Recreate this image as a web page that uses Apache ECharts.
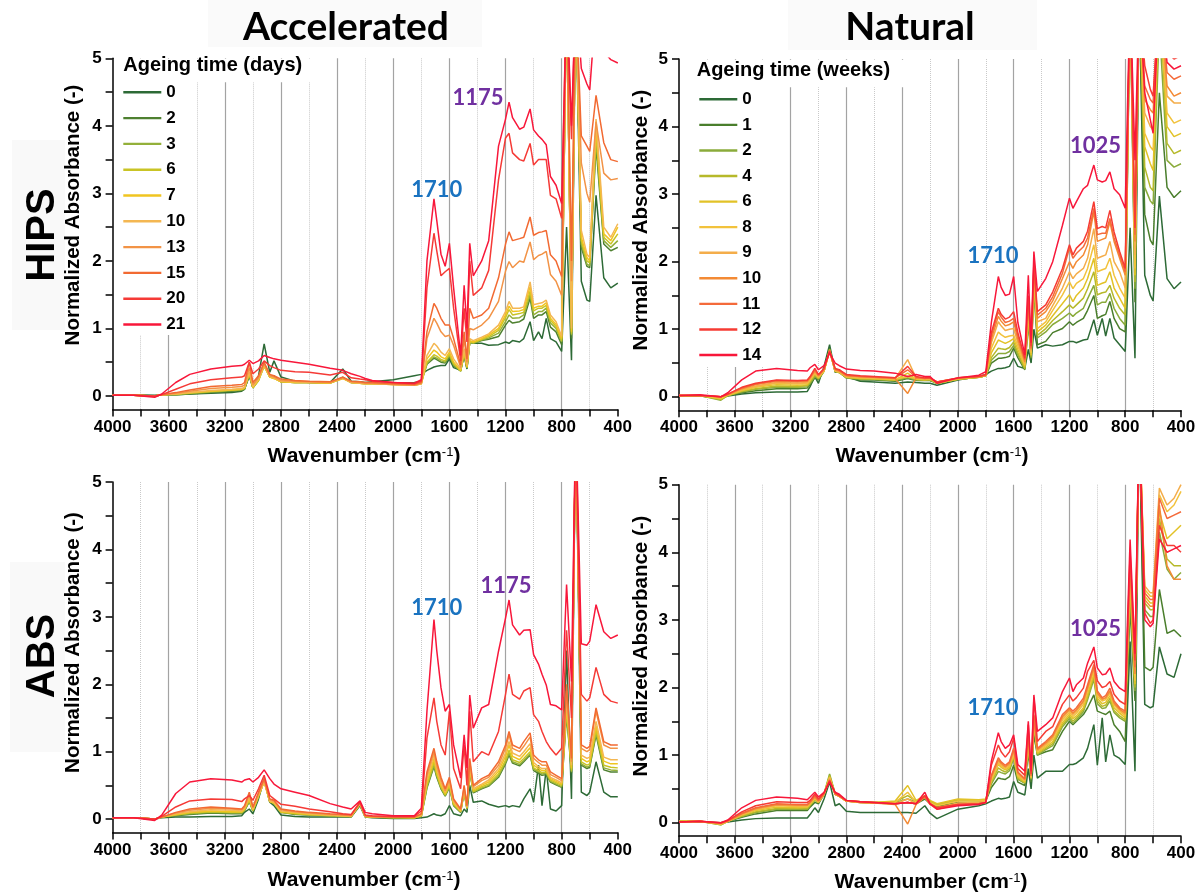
<!DOCTYPE html>
<html>
<head>
<meta charset="utf-8">
<script src="https://cdn.jsdelivr.net/npm/echarts@6/dist/echarts.min.js"></script>
<style>
  html, body { margin: 0; padding: 0; background: #ffffff; }
  #chart { width: 1201px; height: 895px; }
</style>
</head>
<body>
<div id="chart"></div>
<script>
// Wavenumber sampling (cm-1) shared by every spectrum
const wavenumbers = [
  4000, 3850, 3700, 3650, 3550, 3450, 3300, 3150, 3080, 3060, 3026,
  3000, 2960, 2920, 2880, 2850, 2800, 2700, 2600, 2450, 2360, 2300,
  2237, 2200, 2150, 2000, 1850, 1800, 1760, 1710, 1690, 1660, 1630,
  1600, 1570, 1520, 1495, 1475, 1455, 1430, 1370, 1320, 1250, 1200,
  1175, 1150, 1100, 1070, 1025, 1000, 965, 940, 910, 880, 840,
  800, 765, 730, 700, 660, 620, 600, 555, 500, 450, 400
];

const ageingDays = ['0', '2', '3', '6', '7', '10', '13', '15', '20', '21'];
const ageingWeeks = ['0', '1', '2', '4', '6', '8', '9', '10', '11', '12', '14'];

const xTicks = [4000, 3600, 3200, 2800, 2400, 2000, 1600, 1200, 800, 400];
const yTickLabels = [0, 1, 2, 3, 4, 5];
const yTickMarks = [0, 0.5, 1, 1.5, 2, 2.5, 3, 3.5, 4, 4.5, 5];

// ---------- HIPS, accelerated ageing (days) ----------
const hipsAcc_d0 = [
  0.01,0.02,0.01,0.02,0.02,0.03,0.04,0.05,0.07,0.1,0.3,
  0.12,0.3,0.77,0.35,0.52,0.28,0.22,0.2,0.2,0.4,0.22,
  0.21,0.2,0.21,0.24,0.3,0.32,0.38,0.43,0.44,0.45,0.45,
  0.55,0.42,0.38,0.6,0.4,0.8,0.78,0.78,0.75,0.76,0.8,
  0.78,0.82,0.8,0.85,1.1,0.82,0.95,0.85,1.15,0.85,0.8,
  0.66,2.5,0.53,6,1.7,1.42,1.4,2.97,1.75,1.6,1.67];
const hipsAcc_d2 = [
  0.01,0.01,0.0,0.02,0.02,0.03,0.05,0.07,0.08,0.1,0.3,
  0.12,0.24,0.48,0.29,0.3,0.21,0.2,0.2,0.19,0.28,0.2,
  0.19,0.19,0.19,0.19,0.2,0.22,0.47,0.56,0.54,0.5,0.49,
  0.58,0.45,0.37,0.62,0.41,0.8,0.78,0.82,0.84,0.88,1.05,
  1.12,1.08,1.1,1.14,1.45,1.15,1.2,1.2,1.25,1.02,0.95,
  0.76,6,0.85,6,2.2,1.92,1.9,3.7,2.25,2.15,2.2];
const hipsAcc_d3 = [
  0.01,0.01,0.0,0.02,0.02,0.04,0.06,0.08,0.09,0.11,0.32,
  0.12,0.23,0.45,0.28,0.27,0.21,0.2,0.2,0.19,0.27,0.2,
  0.19,0.18,0.18,0.18,0.18,0.2,0.48,0.58,0.56,0.52,0.5,
  0.6,0.46,0.37,0.63,0.42,0.8,0.78,0.83,0.86,0.93,1.1,
  1.2,1.15,1.16,1.2,1.5,1.2,1.25,1.25,1.3,1.08,1.0,
  0.8,6,0.9,6,2.25,1.95,1.93,3.8,2.3,2.2,2.3];
const hipsAcc_d6 = [
  0.01,0.01,0.0,0.02,0.03,0.04,0.07,0.09,0.1,0.11,0.33,
  0.12,0.23,0.44,0.28,0.26,0.21,0.2,0.2,0.19,0.26,0.2,
  0.19,0.18,0.18,0.17,0.16,0.18,0.5,0.61,0.59,0.54,0.52,
  0.62,0.48,0.37,0.64,0.42,0.8,0.79,0.84,0.88,0.97,1.16,
  1.28,1.2,1.22,1.24,1.55,1.26,1.3,1.3,1.34,1.12,1.03,
  0.82,6,0.92,6,2.3,2.0,1.97,3.9,2.35,2.25,2.4];
const hipsAcc_d7 = [
  0.01,0.01,0.0,0.02,0.03,0.05,0.07,0.09,0.1,0.12,0.34,
  0.13,0.24,0.45,0.28,0.26,0.21,0.2,0.2,0.19,0.26,0.2,
  0.19,0.18,0.18,0.17,0.16,0.18,0.55,0.68,0.65,0.58,0.55,
  0.65,0.5,0.38,0.66,0.43,0.82,0.8,0.85,0.9,1.0,1.2,
  1.33,1.25,1.26,1.28,1.62,1.3,1.33,1.33,1.38,1.15,1.06,
  0.85,6,0.95,6,2.35,2.05,2.0,4.0,2.4,2.3,2.5];
const hipsAcc_d10 = [
  0.01,0.01,0.0,0.02,0.03,0.05,0.08,0.1,0.11,0.13,0.36,
  0.14,0.25,0.46,0.29,0.27,0.22,0.21,0.2,0.2,0.27,0.2,
  0.19,0.18,0.18,0.17,0.16,0.18,0.6,0.78,0.74,0.65,0.6,
  0.7,0.55,0.4,0.7,0.45,0.85,0.82,0.87,0.92,1.05,1.25,
  1.4,1.3,1.3,1.32,1.69,1.35,1.37,1.38,1.42,1.2,1.1,
  0.88,6,1.0,6,2.45,2.1,2.05,4.1,2.5,2.35,2.55];
const hipsAcc_d13 = [
  0.01,0.01,0.0,0.02,0.04,0.07,0.11,0.13,0.14,0.16,0.42,
  0.17,0.27,0.48,0.3,0.28,0.23,0.22,0.21,0.2,0.27,0.21,
  0.2,0.19,0.19,0.17,0.16,0.19,0.85,1.15,1.08,0.95,0.88,
  0.9,0.75,0.42,0.85,0.5,1.0,0.98,1.05,1.15,1.4,1.85,
  1.99,1.9,2.0,1.98,2.28,2.02,2.08,2.1,2.14,1.8,1.7,
  1.49,6,1.7,6,3.45,3.0,2.87,4.06,3.3,3.2,3.22];
const hipsAcc_d15 = [
  0.01,0.01,0.0,0.02,0.05,0.09,0.14,0.16,0.17,0.2,0.5,
  0.2,0.3,0.5,0.32,0.3,0.25,0.23,0.22,0.21,0.28,0.22,
  0.21,0.2,0.2,0.18,0.17,0.2,0.95,1.37,1.3,1.15,1.05,
  1.05,0.85,0.46,0.95,0.55,1.3,1.15,1.2,1.3,1.75,2.25,
  2.43,2.3,2.33,2.35,2.65,2.38,2.42,2.43,2.45,2.09,2.0,
  1.77,6,2.0,6,3.85,3.7,3.62,4.45,3.75,3.5,3.47];
const hipsAcc_d20 = [
  0.01,0.01,0.0,0.02,0.1,0.18,0.24,0.27,0.28,0.3,0.5,
  0.33,0.4,0.52,0.45,0.42,0.38,0.36,0.35,0.31,0.35,0.27,
  0.25,0.24,0.22,0.2,0.18,0.22,1.6,2.41,2.15,1.78,1.84,
  1.89,1.3,0.52,1.3,0.8,2.0,1.49,1.6,1.86,3.2,3.82,
  3.89,3.6,3.5,3.48,3.74,3.42,3.5,3.5,3.5,2.97,2.92,
  2.63,6,3.8,6,5.4,5.2,5.1,6,5.5,5.3,5.2];
const hipsAcc_d21 = [
  0.01,0.01,-0.02,0.03,0.2,0.32,0.4,0.44,0.45,0.47,0.53,
  0.48,0.52,0.6,0.57,0.55,0.53,0.5,0.47,0.41,0.38,0.33,
  0.29,0.26,0.23,0.2,0.19,0.24,2.0,2.92,2.6,2.1,1.92,
  2.26,1.6,0.6,1.64,1.0,2.26,1.78,2.0,2.3,3.7,4.1,
  4.35,4.12,3.95,3.98,4.25,3.94,3.85,3.8,3.72,3.25,3.12,
  2.85,6,4.0,6,4.85,4.62,4.53,5.8,5.1,4.98,4.93];

// ---------- HIPS, natural ageing (weeks) ----------
const hipsNat_w0 = [
  0.02,0.01,-0.02,0.01,0.04,0.06,0.07,0.07,0.08,0.15,0.3,
  0.2,0.45,0.77,0.36,0.4,0.3,0.23,0.22,0.2,0.22,0.21,
  0.2,0.2,0.17,0.25,0.3,0.33,0.38,0.42,0.42,0.43,0.45,
  0.57,0.45,0.42,0.7,0.5,1.0,0.72,0.77,0.75,0.77,0.82,
  0.82,0.8,0.84,0.85,1.14,0.91,1.16,0.9,1.16,0.87,0.77,
  0.67,2.5,0.57,6,1.8,1.5,1.42,2.97,1.75,1.6,1.7];
const hipsNat_w1 = [
  0.01,0.02,-0.03,0.02,0.06,0.09,0.12,0.12,0.13,0.18,0.28,
  0.25,0.38,0.72,0.37,0.36,0.28,0.25,0.25,0.23,0.27,0.24,
  0.24,0.24,0.2,0.26,0.29,0.31,0.5,0.57,0.57,0.58,0.6,
  0.72,0.58,0.4,1.1,0.56,1.6,0.77,0.82,0.95,1.01,1.11,
  1.06,1.1,1.16,1.28,1.5,1.16,1.2,1.22,1.41,1.16,1.01,
  0.96,6,1.4,6,2.7,2.32,2.25,4.5,3.1,2.95,3.05];
const hipsNat_w2 = [
  0.01,0.02,-0.05,0.02,0.07,0.11,0.14,0.14,0.15,0.2,0.3,
  0.26,0.38,0.7,0.37,0.36,0.28,0.26,0.26,0.24,0.28,0.25,
  0.25,0.25,0.2,0.26,0.29,0.31,0.54,0.64,0.64,0.64,0.67,
  0.76,0.62,0.41,1.15,0.58,1.65,0.87,0.96,1.07,1.16,1.24,
  1.19,1.24,1.31,1.45,1.65,1.36,1.4,1.4,1.53,1.31,1.16,
  1.06,6,1.6,6,3.1,2.9,2.85,5.5,3.5,3.4,3.45];
const hipsNat_w4 = [
  0.01,0.02,-0.04,0.02,0.08,0.12,0.16,0.15,0.17,0.22,0.32,
  0.27,0.38,0.7,0.38,0.36,0.29,0.27,0.26,0.25,0.3,0.26,
  0.25,0.25,0.2,0.26,0.29,0.31,0.58,0.72,0.71,0.7,0.73,
  0.81,0.65,0.42,1.2,0.6,1.7,0.91,1.01,1.13,1.26,1.36,
  1.31,1.36,1.46,1.6,1.85,1.51,1.54,1.55,1.65,1.46,1.31,
  1.21,6,1.7,6,3.4,3.1,3.05,6,3.75,3.6,3.65];
const hipsNat_w6 = [
  0.02,0.02,-0.03,0.02,0.09,0.14,0.18,0.17,0.18,0.24,0.34,
  0.28,0.38,0.68,0.38,0.36,0.29,0.27,0.27,0.25,0.35,0.26,
  0.25,0.26,0.2,0.26,0.29,0.31,0.65,0.84,0.82,0.79,0.82,
  0.86,0.7,0.45,1.25,0.62,1.75,0.96,1.06,1.2,1.38,1.51,
  1.41,1.5,1.61,1.75,2.05,1.65,1.68,1.7,1.85,1.61,1.46,
  1.31,6,1.8,6,3.7,3.45,3.35,6,4.0,3.85,3.9];
const hipsNat_w8 = [
  0.02,0.02,-0.02,0.03,0.1,0.15,0.2,0.19,0.2,0.25,0.35,
  0.29,0.38,0.68,0.38,0.37,0.3,0.28,0.27,0.26,0.3,0.27,
  0.26,0.26,0.22,0.27,0.3,0.32,0.72,0.96,0.92,0.88,0.9,
  0.91,0.75,0.47,1.3,0.65,1.8,1.01,1.11,1.28,1.51,1.7,
  1.6,1.68,1.75,1.9,2.25,1.85,1.88,1.9,2.05,1.8,1.61,
  1.46,6,1.9,6,3.9,3.7,3.65,6,4.2,4.05,4.1];
const hipsNat_w9 = [
  0.02,0.02,0.0,0.03,0.11,0.16,0.21,0.2,0.21,0.26,0.36,
  0.3,0.39,0.67,0.39,0.37,0.3,0.29,0.28,0.27,0.55,0.28,
  0.27,0.27,0.22,0.27,0.3,0.32,0.8,1.11,1.05,0.98,1.0,
  1.01,0.8,0.5,1.35,0.68,1.85,1.11,1.16,1.35,1.61,1.85,
  1.75,1.82,1.9,2.05,2.49,2.05,2.08,2.1,2.3,2.0,1.85,
  1.61,6,2.1,6,4.2,4.0,3.95,6,4.45,4.35,4.35];
const hipsNat_w10 = [
  0.02,0.02,0.0,0.03,0.12,0.18,0.23,0.22,0.23,0.28,0.38,
  0.31,0.4,0.67,0.4,0.38,0.31,0.3,0.29,0.27,0.05,0.28,
  0.27,0.27,0.21,0.27,0.3,0.32,0.85,1.19,1.12,1.05,1.07,
  1.11,0.85,0.52,1.4,0.7,1.9,1.16,1.26,1.42,1.75,2.0,
  1.9,2.0,2.1,2.25,2.74,2.3,2.33,2.35,2.59,2.3,2.05,
  1.8,6,2.3,6,4.4,4.25,4.2,6,4.6,4.45,4.5];
const hipsNat_w11 = [
  0.02,0.02,0.0,0.04,0.13,0.19,0.24,0.23,0.24,0.29,0.4,
  0.32,0.41,0.68,0.41,0.39,0.32,0.3,0.29,0.28,0.4,0.29,
  0.27,0.28,0.22,0.28,0.3,0.32,0.9,1.26,1.18,1.1,1.12,
  1.16,0.9,0.55,1.45,0.72,1.95,1.21,1.31,1.48,1.83,2.2,
  2.05,2.12,2.22,2.35,2.79,2.4,2.42,2.42,2.64,2.35,2.1,
  1.85,6,2.4,6,4.6,4.4,4.35,6,4.8,4.7,4.75];
const hipsNat_w12 = [
  0.02,0.02,0.0,0.04,0.14,0.2,0.25,0.24,0.25,0.3,0.42,
  0.33,0.42,0.68,0.42,0.4,0.33,0.31,0.3,0.28,0.45,0.3,
  0.28,0.28,0.22,0.28,0.3,0.33,0.95,1.31,1.22,1.15,1.18,
  1.26,0.95,0.57,1.5,0.75,2.0,1.26,1.36,1.55,1.9,2.25,
  2.1,2.2,2.3,2.45,2.89,2.49,2.52,2.5,2.76,2.44,2.15,
  1.9,6,2.5,6,4.9,4.55,4.45,6,5.1,5.0,5.05];
const hipsNat_w14 = [
  0.02,0.03,0.0,0.06,0.25,0.38,0.42,0.39,0.38,0.43,0.48,
  0.4,0.46,0.65,0.5,0.46,0.41,0.39,0.38,0.35,0.3,0.33,
  0.3,0.3,0.2,0.28,0.32,0.37,1.1,1.78,1.62,1.5,1.52,
  1.78,1.1,0.62,1.8,0.8,2.15,1.56,1.75,2.0,2.54,2.94,
  2.79,2.89,3.08,3.13,3.43,3.21,3.18,3.2,3.33,3.08,2.99,
  2.79,6,3.5,6,4.5,4.1,3.9,6,4.95,4.85,4.9];

// ---------- ABS, accelerated ageing (days) ----------
const absAcc_d0 = [
  0.02,0.02,0.0,0.02,0.03,0.03,0.04,0.04,0.05,0.1,0.15,
  0.08,0.3,0.6,0.25,0.2,0.06,0.04,0.03,0.03,0.03,0.03,
  0.2,0.03,0.02,0.01,0.01,0.02,0.03,0.08,0.06,0.05,0.08,
  0.2,0.08,0.05,0.15,0.1,0.5,0.25,0.27,0.22,0.18,0.2,
  0.18,0.2,0.18,0.3,0.45,0.25,0.8,0.2,0.75,0.15,0.12,
  0.2,2.5,0.3,6,0.4,0.35,0.4,0.85,0.4,0.33,0.33];
const absAcc_d2 = [
  0.02,0.02,0.0,0.03,0.05,0.07,0.09,0.08,0.08,0.12,0.26,
  0.12,0.33,0.58,0.26,0.23,0.1,0.07,0.06,0.05,0.04,0.04,
  0.22,0.04,0.03,0.02,0.02,0.04,0.46,0.78,0.62,0.45,0.34,
  0.47,0.2,0.1,0.4,0.15,0.72,0.39,0.45,0.49,0.62,0.82,
  0.95,0.83,0.79,0.85,0.95,0.72,0.68,0.65,0.66,0.55,0.51,
  0.47,1.55,0.68,6,0.8,0.75,0.77,1.25,0.73,0.7,0.7];
const absAcc_d3 = [
  0.02,0.02,0.0,0.03,0.06,0.08,0.1,0.09,0.09,0.13,0.27,
  0.12,0.33,0.57,0.26,0.23,0.1,0.08,0.06,0.05,0.04,0.04,
  0.22,0.04,0.03,0.02,0.02,0.05,0.48,0.8,0.64,0.46,0.35,
  0.48,0.21,0.11,0.41,0.16,0.73,0.4,0.46,0.5,0.64,0.84,
  0.98,0.85,0.81,0.87,0.97,0.74,0.7,0.67,0.68,0.56,0.52,
  0.48,1.6,0.7,6,0.82,0.77,0.79,1.28,0.76,0.73,0.72];
const absAcc_d6 = [
  0.02,0.02,0.0,0.03,0.06,0.09,0.11,0.1,0.1,0.14,0.28,
  0.13,0.34,0.56,0.26,0.24,0.1,0.08,0.07,0.05,0.05,0.04,
  0.22,0.04,0.03,0.02,0.02,0.05,0.5,0.85,0.67,0.48,0.36,
  0.5,0.22,0.11,0.42,0.16,0.75,0.41,0.48,0.52,0.67,0.87,
  1.02,0.88,0.84,0.9,1.0,0.76,0.72,0.69,0.7,0.58,0.54,
  0.5,1.65,0.72,6,0.85,0.8,0.82,1.32,0.8,0.77,0.76];
const absAcc_d7 = [
  0.02,0.02,0.0,0.03,0.07,0.1,0.12,0.11,0.11,0.15,0.3,
  0.14,0.35,0.55,0.26,0.24,0.11,0.09,0.07,0.06,0.05,0.04,
  0.23,0.04,0.03,0.03,0.02,0.05,0.55,0.9,0.7,0.5,0.38,
  0.52,0.24,0.12,0.43,0.17,0.78,0.43,0.5,0.55,0.71,0.93,
  1.1,0.93,0.88,0.95,1.06,0.8,0.75,0.72,0.72,0.6,0.56,
  0.52,1.7,0.75,6,0.9,0.85,0.87,1.38,0.86,0.82,0.82];
const absAcc_d10 = [
  0.02,0.02,0.0,0.03,0.08,0.11,0.14,0.13,0.12,0.16,0.33,
  0.15,0.36,0.56,0.27,0.25,0.12,0.1,0.08,0.06,0.05,0.05,
  0.23,0.04,0.04,0.03,0.03,0.06,0.6,0.95,0.75,0.54,0.4,
  0.55,0.26,0.13,0.45,0.18,0.8,0.45,0.52,0.58,0.75,0.98,
  1.15,0.98,0.93,1.0,1.12,0.84,0.78,0.75,0.75,0.62,0.58,
  0.54,1.8,0.8,6,0.95,0.9,0.92,1.45,0.92,0.88,0.88];
const absAcc_d13 = [
  0.02,0.02,0.0,0.03,0.09,0.13,0.16,0.15,0.14,0.18,0.36,
  0.17,0.38,0.58,0.29,0.27,0.14,0.11,0.09,0.07,0.06,0.05,
  0.24,0.05,0.04,0.03,0.03,0.07,0.65,1.0,0.8,0.58,0.42,
  0.58,0.28,0.14,0.48,0.19,0.85,0.48,0.57,0.62,0.8,1.05,
  1.25,1.05,1.0,1.08,1.22,0.9,0.84,0.8,0.8,0.66,0.62,
  0.57,1.9,0.85,6,1.05,1.0,1.03,1.6,1.1,1.05,1.05];
const absAcc_d15 = [
  0.02,0.02,0.0,0.03,0.1,0.15,0.18,0.16,0.15,0.2,0.4,
  0.18,0.4,0.6,0.3,0.28,0.15,0.12,0.1,0.08,0.07,0.06,
  0.25,0.05,0.04,0.03,0.03,0.08,0.7,1.05,0.85,0.62,0.45,
  0.62,0.3,0.15,0.5,0.2,0.9,0.5,0.6,0.65,0.85,1.1,
  1.3,1.1,1.05,1.15,1.28,0.95,0.88,0.85,0.85,0.7,0.65,
  0.6,2.0,0.9,6,1.1,1.05,1.08,1.65,1.15,1.1,1.1];
const absAcc_d20 = [
  0.02,0.02,0.0,0.04,0.18,0.27,0.3,0.29,0.26,0.3,0.35,
  0.28,0.45,0.65,0.35,0.3,0.22,0.19,0.15,0.11,0.08,0.07,
  0.25,0.06,0.05,0.04,0.04,0.12,1.2,1.8,1.45,1.1,0.95,
  1.6,0.75,0.45,1.1,0.5,1.6,0.85,1.0,0.95,1.3,1.85,
  2.15,1.85,1.78,1.9,1.95,1.55,1.45,1.3,1.15,1.05,0.95,
  1.05,2.8,1.5,6,1.85,1.75,1.8,2.25,1.85,1.75,1.72];
const absAcc_d21 = [
  0.02,0.02,-0.02,0.06,0.38,0.55,0.6,0.58,0.55,0.58,0.6,
  0.55,0.62,0.73,0.6,0.52,0.45,0.4,0.35,0.23,0.18,0.15,
  0.27,0.1,0.08,0.05,0.05,0.16,1.6,2.96,2.5,1.95,1.6,
  1.7,1.1,0.61,1.25,0.76,1.84,1.35,1.65,1.7,2.49,2.98,
  3.25,2.88,2.73,2.8,2.81,2.44,2.3,2.15,1.99,1.7,1.68,
  1.62,3.48,2.04,6,2.6,2.58,2.64,3.18,2.78,2.68,2.73];

// ---------- ABS, natural ageing (weeks) ----------
const absNat_w0 = [
  0.02,0.01,0.0,0.01,0.04,0.06,0.07,0.07,0.07,0.12,0.22,
  0.15,0.35,0.6,0.25,0.28,0.17,0.15,0.15,0.15,0.15,0.14,
  0.25,0.14,0.06,0.2,0.25,0.28,0.32,0.36,0.35,0.36,0.38,
  0.61,0.45,0.41,0.8,0.5,1.0,0.66,0.76,0.76,0.76,0.86,
  0.86,0.88,0.96,1.1,1.45,0.85,1.55,0.9,1.3,1.0,0.95,
  0.86,2.68,0.76,6,1.75,1.7,1.72,2.6,2.2,2.15,2.5];
const absNat_w1 = [
  0.02,0.02,-0.02,0.02,0.08,0.13,0.18,0.18,0.18,0.23,0.3,
  0.28,0.42,0.68,0.42,0.4,0.32,0.3,0.29,0.28,0.3,0.28,
  0.35,0.28,0.24,0.3,0.3,0.32,0.52,0.66,0.65,0.64,0.68,
  0.85,0.6,0.55,1.05,0.6,1.3,1.0,1.05,1.08,1.35,1.5,
  1.45,1.5,1.6,1.7,1.89,1.65,1.62,1.6,1.65,1.45,1.35,
  1.2,3.2,1.8,6,2.3,2.25,2.3,3.45,2.8,2.85,2.75];
const absNat_w2 = [
  0.02,0.02,-0.03,0.02,0.09,0.15,0.2,0.2,0.2,0.25,0.33,
  0.3,0.43,0.72,0.43,0.4,0.32,0.31,0.3,0.3,0.35,0.31,
  0.37,0.31,0.26,0.33,0.32,0.33,0.57,0.76,0.74,0.72,0.77,
  0.95,0.64,0.58,1.15,0.64,1.45,1.0,1.08,1.14,1.42,1.54,
  1.47,1.52,1.64,1.82,2.12,1.76,1.69,1.7,1.8,1.63,1.55,
  1.5,3.4,1.95,6,3.15,3.05,3.05,4.3,3.75,3.6,3.7];
const absNat_w4 = [
  0.02,0.02,-0.03,0.02,0.1,0.16,0.21,0.21,0.21,0.26,0.34,
  0.3,0.42,0.7,0.42,0.39,0.32,0.31,0.3,0.31,0.4,0.32,
  0.38,0.32,0.27,0.34,0.33,0.34,0.6,0.81,0.78,0.75,0.8,
  0.98,0.66,0.59,1.18,0.65,1.48,1.02,1.1,1.17,1.45,1.57,
  1.5,1.55,1.67,1.86,2.16,1.8,1.72,1.74,1.84,1.66,1.58,
  1.52,3.5,2.0,6,3.25,3.15,3.15,4.5,3.9,3.8,3.8];
const absNat_w6 = [
  0.02,0.02,-0.02,0.02,0.11,0.18,0.23,0.22,0.23,0.27,0.35,
  0.3,0.42,0.68,0.42,0.39,0.32,0.31,0.3,0.32,0.55,0.33,
  0.4,0.33,0.28,0.35,0.34,0.35,0.62,0.86,0.82,0.78,0.82,
  1.0,0.68,0.6,1.2,0.66,1.5,1.03,1.12,1.2,1.48,1.6,
  1.54,1.58,1.7,1.9,2.2,1.84,1.76,1.78,1.88,1.7,1.62,
  1.55,3.6,2.05,6,3.35,3.25,3.25,4.6,4.2,4.3,4.4];
const absNat_w8 = [
  0.02,0.02,-0.02,0.02,0.12,0.19,0.25,0.24,0.24,0.28,0.36,
  0.31,0.42,0.67,0.42,0.39,0.32,0.3,0.29,0.3,0.45,0.3,
  0.38,0.3,0.25,0.32,0.32,0.33,0.64,0.88,0.84,0.8,0.84,
  1.02,0.7,0.62,1.22,0.67,1.52,1.05,1.14,1.24,1.52,1.63,
  1.57,1.62,1.75,1.95,2.25,1.87,1.8,1.82,1.92,1.74,1.65,
  1.58,3.7,2.1,6,3.45,3.35,3.35,4.85,4.6,4.7,4.9];
const absNat_w9 = [
  0.01,0.02,-0.02,0.02,0.12,0.2,0.26,0.25,0.25,0.29,0.37,
  0.31,0.42,0.66,0.42,0.39,0.32,0.3,0.29,0.28,0.35,0.28,
  0.38,0.28,0.22,0.29,0.3,0.32,0.66,0.91,0.86,0.82,0.86,
  1.05,0.72,0.63,1.25,0.68,1.55,1.07,1.16,1.26,1.55,1.66,
  1.6,1.65,1.78,1.98,2.28,1.9,1.82,1.84,1.94,1.76,1.67,
  1.6,3.8,2.2,6,3.5,3.4,3.4,4.95,4.7,4.8,5.0];
const absNat_w10 = [
  0.01,0.01,-0.01,0.02,0.13,0.21,0.27,0.26,0.26,0.3,0.38,
  0.32,0.42,0.63,0.42,0.39,0.32,0.3,0.29,0.27,-0.02,0.27,
  0.38,0.27,0.2,0.27,0.28,0.3,0.68,0.93,0.88,0.83,0.88,
  1.08,0.74,0.64,1.28,0.69,1.58,1.08,1.18,1.28,1.57,1.68,
  1.62,1.67,1.8,2.0,2.3,1.92,1.83,1.85,1.95,1.77,1.68,
  1.62,3.8,2.2,6,3.3,3.2,3.2,4.7,3.8,3.6,3.6];
const absNat_w11 = [
  0.01,0.02,-0.01,0.03,0.14,0.22,0.28,0.27,0.27,0.31,0.4,
  0.33,0.43,0.63,0.43,0.4,0.33,0.31,0.3,0.28,0.3,0.28,
  0.38,0.28,0.22,0.27,0.28,0.3,0.7,0.96,0.9,0.85,0.9,
  1.1,0.75,0.65,1.3,0.7,1.6,1.1,1.2,1.3,1.6,1.7,
  1.65,1.7,1.84,2.04,2.34,1.95,1.85,1.88,1.99,1.8,1.7,
  1.65,3.9,2.3,6,3.4,3.3,3.3,4.8,4.5,4.55,4.6];
const absNat_w12 = [
  0.01,0.02,0.0,0.03,0.16,0.25,0.31,0.3,0.3,0.33,0.42,
  0.35,0.44,0.62,0.44,0.4,0.33,0.31,0.3,0.28,0.3,0.28,
  0.4,0.28,0.22,0.27,0.28,0.3,0.85,1.15,1.05,0.97,1.05,
  1.25,0.8,0.7,1.45,0.72,1.85,1.2,1.35,1.42,1.75,1.89,
  1.8,1.85,1.99,2.24,2.4,2.1,2.0,2.02,2.09,1.9,1.8,
  1.75,4.0,2.4,6,3.1,2.95,3.0,4.4,4.1,4.1,4.0];
const absNat_w14 = [
  0.01,0.02,0.0,0.04,0.22,0.33,0.38,0.36,0.34,0.38,0.45,
  0.38,0.45,0.6,0.45,0.42,0.33,0.31,0.3,0.28,0.3,0.28,
  0.45,0.28,0.2,0.25,0.27,0.3,0.91,1.33,1.2,1.1,1.15,
  1.3,0.86,0.76,1.5,0.76,1.89,1.35,1.45,1.55,1.94,2.14,
  1.94,2.04,2.14,2.36,2.6,2.29,2.19,2.2,2.29,2.09,1.99,
  1.94,4.19,2.5,6,3.0,2.9,2.95,4.2,4.0,4.05,4.1];

// Peak annotations: the wavenumber each one names
const hipsAccPeaks = [1710, 1175];
const hipsNatPeaks = [1025, 1710];
const absAccPeaks = [1710, 1175];
const absNatPeaks = [1025, 1710];

// ---------- styling ----------
const daysColors = ['#2d6a36', '#4e8030', '#93b03a', '#c9c425', '#f0c520',
                    '#f4b752', '#f29346', '#f26a32', '#f53a36', '#f8173a'];
const weeksColors = ['#2d6a36', '#4a7e2c', '#8aab3a', '#b6b92a', '#e2c227', '#f2c23c',
                     '#f4ad4a', '#f38a34', '#f46a3a', '#f63b33', '#f8173a'];
const peakColor = { 1710: '#1a73c0', 1175: '#7030a0', 1025: '#7030a0' };

const ARIAL = '"Liberation Sans", Arial, sans-serif';
const CALIBRI = 'Lato, "Open Sans", sans-serif';

const panels = [
  { key: 'hipsAcc', labels: ageingDays, colors: daysColors,
    spectra: [hipsAcc_d0, hipsAcc_d2, hipsAcc_d3, hipsAcc_d6, hipsAcc_d7, hipsAcc_d10, hipsAcc_d13, hipsAcc_d15, hipsAcc_d20, hipsAcc_d21],
    peaks: hipsAccPeaks, peakAnchors: [[1690, 3.05], [1396, 4.41]],
    grid: { left: 112.6, top: 58.3, width: 505.2, height: 351.2 } },
  { key: 'hipsNat', labels: ageingWeeks, colors: weeksColors,
    spectra: [hipsNat_w0, hipsNat_w1, hipsNat_w2, hipsNat_w4, hipsNat_w6, hipsNat_w8, hipsNat_w9, hipsNat_w10, hipsNat_w11, hipsNat_w12, hipsNat_w14],
    peaks: hipsNatPeaks, peakAnchors: [[1013, 3.71], [1748, 2.08]],
    grid: { left: 679, top: 59, width: 502, height: 351.3 } },
  { key: 'absAcc', labels: ageingDays, colors: daysColors,
    spectra: [absAcc_d0, absAcc_d2, absAcc_d3, absAcc_d6, absAcc_d7, absAcc_d10, absAcc_d13, absAcc_d15, absAcc_d20, absAcc_d21],
    peaks: absAccPeaks, peakAnchors: [[1690, 3.13], [1197, 3.46]],
    grid: { left: 112.6, top: 482, width: 505.2, height: 350.6 } },
  { key: 'absNat', labels: ageingWeeks, colors: weeksColors,
    spectra: [absNat_w0, absNat_w1, absNat_w2, absNat_w4, absNat_w6, absNat_w8, absNat_w9, absNat_w10, absNat_w11, absNat_w12, absNat_w14],
    peaks: absNatPeaks, peakAnchors: [[1013, 2.87], [1748, 1.70]],
    grid: { left: 679, top: 484.7, width: 502, height: 351.5 } }
];

const tickFont = { color: '#000', fontSize: 17, fontWeight: 'bold', fontFamily: ARIAL };
const axisBlack = { color: '#000', width: 1.5 };

const grids = panels.map(p => p.grid);

const xAxes = panels.map((p, i) => ({
  gridIndex: i, type: 'value', inverse: true,
  min: xTicks[xTicks.length - 1], max: xTicks[0], interval: xTicks[0] - xTicks[1],
  axisLine: { onZero: false, lineStyle: axisBlack },
  axisTick: { length: 7, lineStyle: axisBlack },
  minorTick: { show: true, splitNumber: 2, length: 7, lineStyle: axisBlack },
  axisLabel: Object.assign({ margin: 9, formatter: v => String(v) }, tickFont),
  splitLine: { show: true, showMinLine: false, showMaxLine: false,
               lineStyle: { color: '#a3a3a3', width: 1.2 } },
  minorSplitLine: { show: true, lineStyle: { color: '#c9c9c9', width: 1, type: 'dotted' } }
}));

const yAxes = panels.map((p, i) => ({
  gridIndex: i, type: 'value', min: -0.2, max: 5,
  axisLine: { show: true, onZero: false, lineStyle: axisBlack },
  axisTick: { show: true, length: 7, lineStyle: axisBlack, customValues: yTickMarks },
  axisLabel: Object.assign({ margin: 11, customValues: yTickLabels, formatter: v => String(v) }, tickFont),
  splitLine: { show: false }
}));

const series = [];
panels.forEach((p, i) => {
  p.spectra.forEach((ys, k) => {
    series.push({
      name: p.key + ' ' + p.labels[k],
      type: 'line', xAxisIndex: i, yAxisIndex: i,
      data: wavenumbers.map((w, j) => [w, ys[j]]),
      symbol: 'none', showSymbol: false, clip: true,
      color: p.colors[k],
      itemStyle: { color: p.colors[k] },
      lineStyle: { color: p.colors[k], width: 1.5 },
      emphasis: { disabled: true }, silent: true
    });
  });
  series.push({
    type: 'scatter', xAxisIndex: i, yAxisIndex: i, symbolSize: 1, silent: true, z: 5,
    itemStyle: { color: 'transparent' },
    data: p.peaks.map((pk, m) => ({
      value: [p.peakAnchors[m][0], p.peakAnchors[m][1], pk],
      label: { color: peakColor[pk] }
    })),
    label: { show: true, position: 'inside', formatter: d => String(d.value[2]),
             fontFamily: CALIBRI, fontWeight: 'bold', fontSize: 22,
             textBorderWidth: 0, textBorderColor: 'transparent', opacity: 1 }
  });
});

function legendFor(p, left, top, gap) {
  return {
    data: p.labels.map(l => p.key + ' ' + l),
    formatter: name => name.split(' ')[1],
    orient: 'vertical', left: left, top: top, padding: 0,
    icon: 'rect', itemWidth: 38, itemHeight: 2.4, itemGap: gap,
    selectedMode: false, z: 6,
    textStyle: { color: '#000', fontSize: 17, fontWeight: 'bold', fontFamily: ARIAL, lineHeight: 20 }
  };
}

function txt(x, y, text, font, opts) {
  return Object.assign({
    type: 'text', x: x, y: y, z: 10,
    style: Object.assign({ text: text, font: font, fill: '#000',
      align: 'center', verticalAlign: 'middle', textAlign: 'center', textVerticalAlign: 'middle' },
      (opts && opts.style) || {})
  }, (opts && opts.el) || {});
}

function box(x, y, w, h, fill, z) {
  return { type: 'rect', z: z, shape: { x: x, y: y, width: w, height: h }, style: { fill: fill } };
}

const yTitle = 'Normalized Absorbance (-)';
const xTitleRich = { sup: { font: '13px ' + ARIAL, verticalAlign: 'top', lineHeight: 14 } };
const xTitle = 'Wavenumber (cm{sup|-1})';

const graphics = [
  // headings with their light panels
  box(208, 0, 274, 47, '#fafafa', 1),
  box(788, 0, 249, 50, '#fafafa', 1),
  box(12, 140, 53, 190, '#f9f9f9', 1),
  box(10, 562, 55, 190, '#f9f9f9', 1),
  txt(346, 27, 'Accelerated', 'bold 39px ' + CALIBRI),
  txt(910, 27, 'Natural', 'bold 39px ' + CALIBRI),
  txt(43, 235, 'HIPS', 'bold 40px ' + ARIAL, { el: { rotation: Math.PI / 2 } }),
  txt(43, 656, 'ABS', 'bold 40px ' + ARIAL, { el: { rotation: Math.PI / 2 } }),
  // axis titles
  txt(73.5, 215, yTitle, 'bold 20.5px ' + ARIAL, { el: { rotation: Math.PI / 2 } }),
  txt(641, 220, yTitle, 'bold 20.5px ' + ARIAL, { el: { rotation: Math.PI / 2 } }),
  txt(73.5, 642.5, yTitle, 'bold 20.5px ' + ARIAL, { el: { rotation: Math.PI / 2 } }),
  txt(641, 646, yTitle, 'bold 20.5px ' + ARIAL, { el: { rotation: Math.PI / 2 } }),
  txt(364, 456, xTitle, 'bold 21px ' + ARIAL, { style: { rich: xTitleRich } }),
  txt(932, 456, xTitle, 'bold 21px ' + ARIAL, { style: { rich: xTitleRich } }),
  txt(364, 880, xTitle, 'bold 21px ' + ARIAL, { style: { rich: xTitleRich } }),
  txt(931, 882, xTitle, 'bold 21px ' + ARIAL, { style: { rich: xTitleRich } }),
  // legend backdrops and headers
  box(114, 58.8, 200, 23.5, '#ffffff', 3),
  box(114, 82, 74, 253, '#ffffff', 3),
  box(680.5, 59.8, 232, 27.5, '#ffffff', 3),
  box(680.5, 87, 94, 280, '#ffffff', 3),
  txt(123.3, 65.8, 'Ageing time (days)', 'bold 20px ' + ARIAL, { style: { align: 'left', textAlign: 'left' } }),
  txt(696.7, 70.8, 'Ageing time (weeks)', 'bold 20px ' + ARIAL, { style: { align: 'left', textAlign: 'left' } })
];

const chart = echarts.init(document.getElementById('chart'));
chart.setOption({
  animation: false,
  backgroundColor: '#ffffff',
  grid: grids,
  xAxis: xAxes,
  yAxis: yAxes,
  legend: [legendFor(panels[0], 123.3, 82.3, 5.8), legendFor(panels[1], 699.3, 89.3, 5.57)],
  graphic: { elements: graphics },
  series: series
});
</script>
</body>
</html>
